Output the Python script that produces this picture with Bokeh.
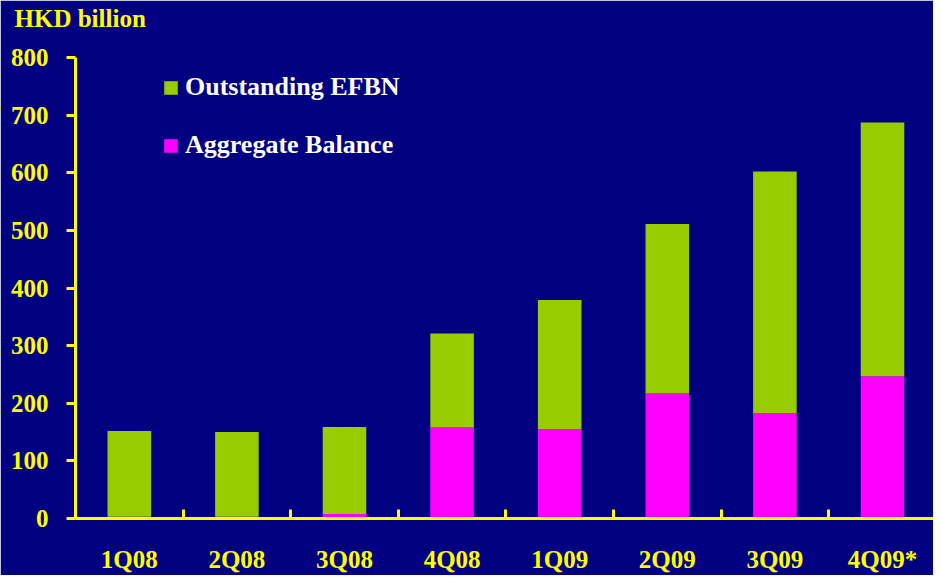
from bokeh.plotting import figure
from bokeh.models import (ColumnDataSource, Range1d, FixedTicker, Legend, LegendItem,
                          Title, LinearAxis)
from bokeh.embed import file_html
from bokeh.resources import INLINE

quarters = ["1Q08", "2Q08", "3Q08", "4Q08", "1Q09", "2Q09", "3Q09", "4Q09*"]
aggregate_balance = [3, 3, 8, 158, 155, 217, 183, 247]
outstanding_efbn = [149, 147, 151, 163, 224, 294, 419, 440]
y_ticks = [0, 100, 200, 300, 400, 500, 600, 700, 800]

BG = "#000080"
YELLOW = "#FFFF00"
GREEN = "#99CC00"
MAGENTA = "#FF00FF"
FONT = "Liberation Serif"

xs = [i + 0.5 for i in range(len(quarters))]
src = ColumnDataSource(dict(x=xs, ab=aggregate_balance, efbn=outstanding_efbn))

p = figure(width=933, height=575, output_backend="svg", toolbar_location=None,
           x_range=Range1d(0, 7.974), y_range=Range1d(0, 800),
           x_axis_type=None, y_axis_type=None,
           min_border_left=75, min_border_right=0, min_border_top=57, min_border_bottom=56)
p.background_fill_color = BG
p.border_fill_color = BG
p.outline_line_color = BG
p.outline_line_width = 2
p.xgrid.visible = False
p.ygrid.visible = False

rs = p.vbar_stack(["ab", "efbn"], x="x", width=0.405, source=src,
                  color=[MAGENTA, GREEN], line_color=None)

# y axis
yax = LinearAxis(ticker=FixedTicker(ticks=y_ticks))
yax.axis_line_color = YELLOW
yax.axis_line_width = 3
yax.major_tick_line_color = YELLOW
yax.major_tick_line_width = 3
yax.major_tick_out = 9
yax.major_tick_in = 0
yax.minor_tick_line_color = None
yax.major_label_text_color = YELLOW
yax.major_label_text_font = FONT
yax.major_label_text_font_style = "bold"
yax.major_label_text_font_size = "25px"
yax.major_label_standoff = 18
p.add_layout(yax, "left")

# x axis: labels at centres, ticks at category boundaries
xax = LinearAxis(ticker=FixedTicker(ticks=xs, minor_ticks=[1, 2, 3, 4, 5, 6, 7]))
xax.major_label_overrides = {x: q for x, q in zip(xs, quarters)}
xax.axis_line_color = YELLOW
xax.axis_line_width = 3
xax.major_tick_line_color = None
xax.minor_tick_line_color = YELLOW
xax.minor_tick_line_width = 3
xax.minor_tick_in = 9
xax.minor_tick_out = 0
xax.major_label_text_color = YELLOW
xax.major_label_text_font = FONT
xax.major_label_text_font_style = "bold"
xax.major_label_text_font_size = "25px"
xax.major_label_standoff = 21
p.add_layout(xax, "below")

# spacer between the unit title and the plot frame
spacer = Title(text=" ", standoff=0, text_font=FONT, text_font_size="21px",
               text_color=BG)
p.add_layout(spacer, "above")
title = Title(text="HKD billion", align="left", offset=-61, standoff=0,
              text_color=YELLOW, text_font=FONT, text_font_style="bold",
              text_font_size="25px")
p.add_layout(title, "above")

legend = Legend(items=[LegendItem(label="Outstanding EFBN", renderers=[rs[1]]),
                       LegendItem(label="Aggregate Balance", renderers=[rs[0]])],
                location=(87, 358))
legend.background_fill_alpha = 0
legend.border_line_color = None
legend.padding = 0
legend.margin = 0
legend.glyph_width = 17
legend.glyph_height = 17
legend.label_standoff = 6
legend.label_text_color = "white"
legend.label_text_font = FONT
legend.label_text_font_style = "bold"
legend.label_text_font_size = "26px"
legend.spacing = 28
p.add_layout(legend, "center")

open("out.html", "w").write(file_html(p, INLINE))
